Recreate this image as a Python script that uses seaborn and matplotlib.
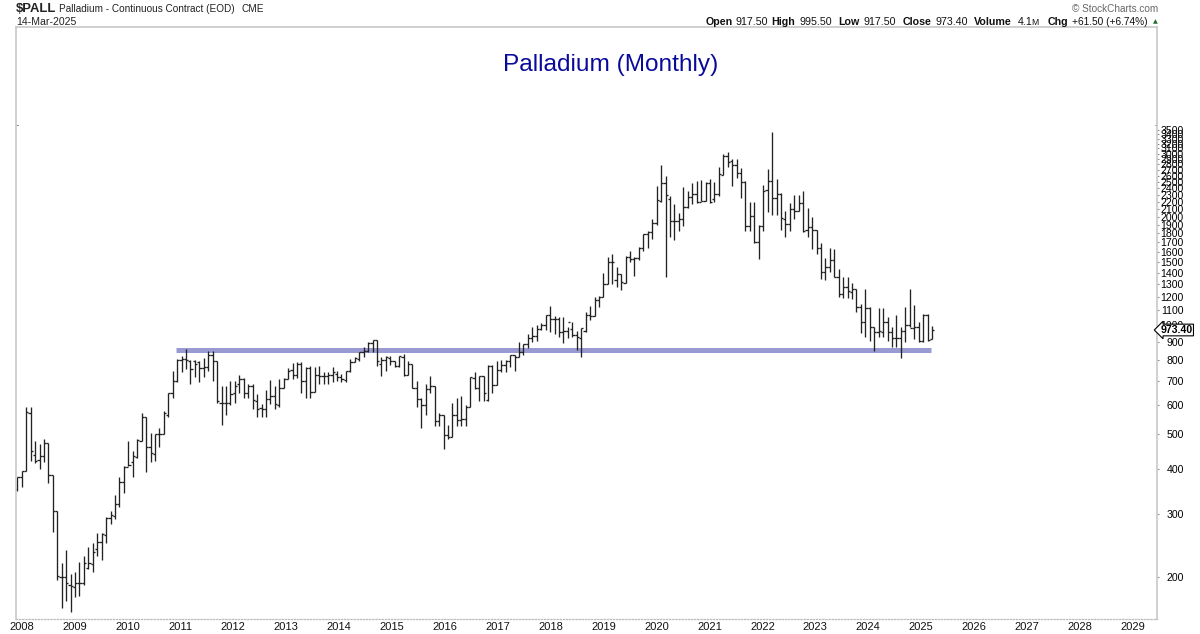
import numpy as np
import pandas as pd
import matplotlib
matplotlib.use("Agg")
import matplotlib.pyplot as plt
from matplotlib.ticker import NullLocator
import seaborn as sns

# monthly bars, jan 2008 to mar 2025
highs = [378,395,594,594,476,467,482,472,383,305,219,238,204,207,220,229,243,249,265,265,294,306,338,378,407,476,449,485,570,555,503,499,518,578,
         648,745,805,820,858,800,800,795,810,848,848,795,680,680,700,700,726,712,686,686,643,603,660,703,678,708,712,760,785,790,790,765,770,765,770,740,740,765,745,735,745,805,815,842,870,897,908,908,815,820,820,795,820,835,795,
         780,700,630,686,722,678,570,565,530,607,630,635,600,717,740,722,722,775,775,795,800,800,825,830,897,886,948,992,1005,1018,1068,1133,1060,1053,1053,992,1025,962,982,1088,1133,1202,1210,1395,1545,1575,1455,1385,1555,1605,1545,1655,1790,1825,
         1970,2435,2790,2595,2285,2180,2050,2420,2360,2480,2510,2530,2495,2545,2495,2750,3000,3025,2895,2895,2730,2510,2200,2200,1900,2460,2715,3450,2545,2330,2075,2185,2300,2300,2360,2115,1995,1835,1690,1535,1645,1627,
         1437,1365,1365,1315,1265,1145,1265,1125,992,1120,1115,1053,992,1068,992,1125,1259,1140,1025,1075,1075,995.5]
lows = [346,356,395,420,415,400,417,366,267,196,164,172,160,176,177,190,210,206,229,223,249,281,290,313,342,407,378,429,476,391,417,421,458,499,
        558,627,694,740,755,686,717,694,717,745,700,607,530,562,600,607,650,630,627,584,558,558,558,603,584,595,668,708,708,712,648,627,630,655,686,686,686,694,700,694,694,740,790,795,815,842,842,770,722,745,775,765,765,722,730,
        668,592,520,562,650,525,525,453,482,491,525,525,525,595,664,615,615,615,648,682,740,740,765,745,815,825,865,897,903,970,970,960,948,930,892,925,930,853,815,960,1035,1060,1125,1200,1300,1300,1280,1250,1315,1495,1370,1515,1605,1645,
        1735,1900,2200,1360,1755,1725,1825,1890,2115,2170,2190,2220,2220,2190,2205,2285,2610,2750,2435,2570,2255,1825,1825,1690,1526,1825,2060,2025,2025,1835,1755,1825,1970,2075,1815,1765,1635,1580,1342,1335,1405,1365,
        1200,1188,1190,1181,1088,950,930,903,848,930,930,903,870,870,810,897,992,914,897,897,903,917.5]
opens = [352,378,395,570,437,422,435,470,383,305,200,200,190,188,192,193,212,218,239,250,262,292,295,320,368,405,417,430,478,555,458,440,498,500,
         563,648,700,800,805,795,795,790,760,765,830,795,610,610,610,648,686,708,650,680,615,588,584,623,635,600,672,708,750,726,780,700,760,655,730,722,722,726,735,717,703,745,790,805,842,848,892,908,780,800,810,795,770,815,730,
         780,668,623,600,664,678,541,562,495,491,565,545,548,595,712,672,722,619,770,682,750,775,795,825,815,842,886,925,936,975,1000,1068,1040,1040,960,962,980,940,925,962,1068,1060,1175,1200,1300,1500,1340,1385,1315,1545,1526,1535,1645,1790,
         1815,1920,2215,2485,2250,1955,1945,1970,2130,2270,2320,2200,2220,2480,2240,2320,2620,2960,2860,2790,2650,2495,1890,2010,1700,1890,2380,2510,2255,2310,1970,1910,2100,2075,2185,1835,1875,1835,1645,1410,1450,1515,
         1365,1225,1275,1240,1259,1125,1020,1115,990,960,960,1020,960,920,925,965,1005,985,992,903,1070,917.5]
closes = [378,395,574,447,421,435,470,383,305,201,200,193,189,192,193,219,219,234,250,263,292,297,320,368,405,409,435,479,555,460,443,499,499,570,
          648,700,800,805,800,755,780,760,765,830,795,615,610,610,645,678,708,650,680,619,584,584,623,635,603,672,708,745,726,780,700,760,655,730,722,722,726,740,717,708,745,790,810,842,848,892,908,795,800,815,795,770,820,730,780,
          672,623,600,664,678,541,562,495,491,565,545,548,595,717,672,722,650,770,682,750,775,795,825,815,842,886,925,936,975,1000,1068,1040,1040,960,962,1020,940,930,982,1068,1060,1175,1200,1300,1500,1500,1385,1320,1545,1526,1535,1645,1790,1815,
          1920,2225,2485,2300,1955,1955,1970,2130,2270,2320,2200,2220,2480,2200,2320,2630,2960,2840,2790,2650,2495,1890,2010,1700,1890,2360,2510,2255,2310,1985,1910,2100,2075,2185,1825,1875,1835,1645,1410,1450,1515,1365,
          1225,1275,1245,1259,1125,1020,1115,990,960,962,1020,960,920,925,965,1005,985,992,903,1070,908,973.4]
assert len(highs) == len(lows) == len(opens) == len(closes), (len(highs), len(lows), len(opens), len(closes))

year_labels = list(range(2008, 2030))
price_ticks = [200, 300, 400, 500, 600, 700, 800, 900] + list(range(1000, 3600, 100))
support_level = 852
support_from, support_to = 35.7, 205.8
last_close = 973.40

W, H = 1200, 634
PX_X0, PX_DX = 17.3, 4.44   # first bar and bar spacing in pixels


def fx(px):
    return px / W


def fy(py):
    return 1 - py / H


sns.set_theme(style="white")
plt.rcParams['font.family'] = ['Liberation Sans', 'DejaVu Sans']

fig = plt.figure(figsize=(W / 100, H / 100), dpi=100)
ax = fig.add_axes([fx(16), fy(619), (1157 - 16) / W, (619 - 27) / H])

# long table of short segments, one per wick and tick
rows = []
for i, (hi, lo, op, cl) in enumerate(zip(highs, lows, opens, closes)):
    rows += [(f"w{i}", i, lo), (f"w{i}", i, hi)]
    rows += [(f"o{i}", i - 0.5, op), (f"o{i}", i, op)]
    rows += [(f"c{i}", i, cl), (f"c{i}", i + 0.5, cl)]
bars = pd.DataFrame(rows, columns=["seg", "month", "price"])

support = pd.DataFrame({"month": [support_from, support_to], "price": [support_level, support_level]})
sns.lineplot(data=support, x="month", y="price", color="#9a9ad2", lw=3.6, solid_capstyle="butt", ax=ax)
sns.lineplot(data=bars, x="month", y="price", units="seg", estimator=None, color="#222222", lw=0.95,
             solid_capstyle="butt", ax=ax)

ax.set_yscale("log")
ax.set_xlim((16 - PX_X0) / PX_DX, (1157 - PX_X0) / PX_DX)
ax.set_ylim(200 * 10 ** ((577 - 619) / 360), 200 * 10 ** ((577 - 27) / 360))
ax.set_xlabel("")
ax.set_ylabel("")

# labels sit a little off the real january bars, same as stockcharts
ax.set_xticks([0.94 + (y - 2008) * 11.92 for y in year_labels])
ax.set_xticklabels([str(y) for y in year_labels], fontsize=8, color="#111111")
ax.tick_params(axis="x", length=0, pad=2)

ax.yaxis.tick_right()
ax.yaxis.set_minor_locator(NullLocator())
ax.set_yticks(price_ticks)
ax.set_yticklabels([str(p) for p in price_ticks], fontsize=7.6, color="black", ha="right")
ax.tick_params(axis="y", which="major", length=1.6, width=0.6, color="#777777", pad=17.6, right=True)

for side in ["left", "right", "top"]:
    ax.spines[side].set_color("#c8c8c8")
    ax.spines[side].set_linewidth(1.2)
ax.spines["bottom"].set_color("#bcbcbc")
ax.spines["bottom"].set_linewidth(0.9)
ax.spines["bottom"].set_linestyle((0, (1, 1.5)))

# the stray little marks just inside the frame near the top
for x0, x1 in [(0, 0.002), (0.998, 1)]:
    ax.plot([x0, x1], [3600, 3600], transform=ax.get_yaxis_transform(), color="#777777", lw=0.6)

# last price flag on the right axis
ax.annotate(f"{last_close:.2f}", xy=(1, last_close), xycoords=("axes fraction", "data"),
            xytext=(1176.5, 634 - 330), textcoords="figure pixels", ha="center", va="center",
            fontsize=7.6, fontweight="bold", color="black",
            bbox=dict(boxstyle="larrow,pad=0.08", fc="white", ec="black", lw=0.8))

fig.text(fx(611), fy(65), "Palladium (Monthly)", color="#0a0a9a", fontsize=17.6, ha="center", va="center")

# header line
fig.text(fx(16), fy(9), "$PALL", fontsize=9.4, fontweight="bold", color="#222222", va="center")
fig.text(fx(59), fy(9), "Palladium - Continuous Contract (EOD)", fontsize=7.2, color="#222222", va="center")
fig.text(fx(241.5), fy(9.5), "CME", fontsize=7.2, color="#222222", va="center")
fig.text(fx(16), fy(22), "14-Mar-2025", fontsize=7.6, color="#222222", va="center")
fig.text(fx(1158), fy(9), "© StockCharts.com", fontsize=7.2, color="#666666", ha="right", va="center")

header_items = [
    (706, "Open", True), (735, "917.50", False), (771, "High", True), (800, "995.50", False),
    (838, "Low", True), (864, "917.50", False), (903, "Close", True), (935, "973.40", False),
    (974, "Volume", True), (1018, "4.1", False), (1048, "Chg", True),
]
for px, txt, is_bold in header_items:
    fig.text(fx(px), fy(22), txt, fontsize=7.7, fontweight="bold" if is_bold else "normal",
             color="#111111", va="center")
fig.text(fx(1072), fy(22), "+61.50 (+6.74%)", fontsize=7.3, color="#111111", va="center")
fig.text(fx(1031), fy(22.5), "M", fontsize=6.2, color="#111111", va="center")
fig.text(fx(1155), fy(22), "▲", fontsize=4.5, color="#1c6b2c", ha="center", va="center",
         family=["DejaVu Sans"])

fig.savefig("out.png", dpi=100)
